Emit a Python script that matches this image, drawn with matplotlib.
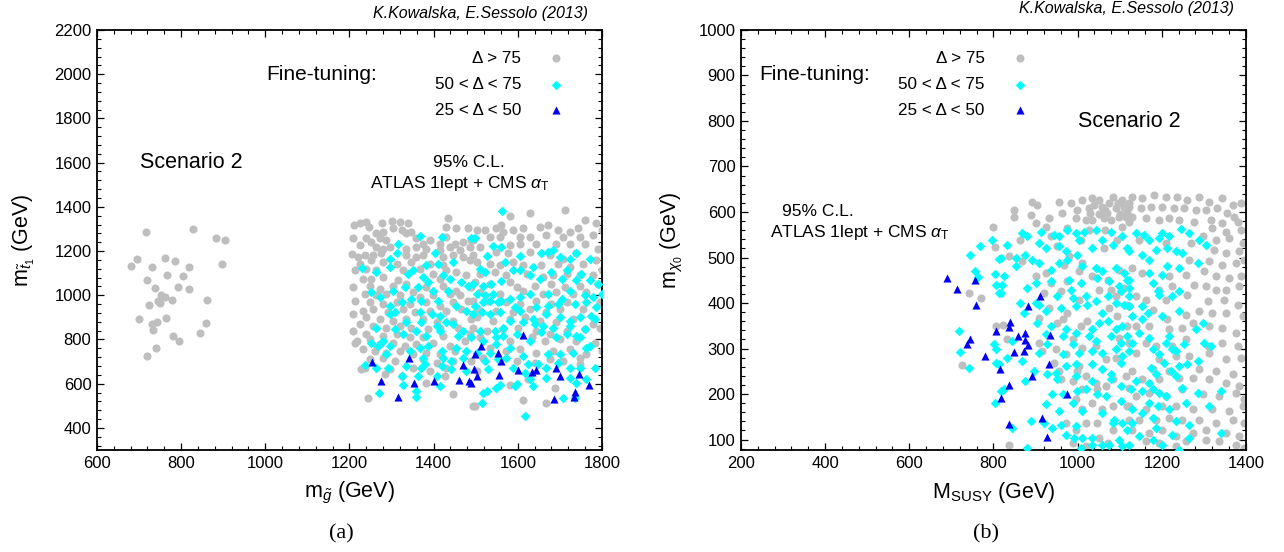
import numpy as np
import matplotlib
matplotlib.use("Agg")
import matplotlib.pyplot as plt
from matplotlib.ticker import MultipleLocator, AutoMinorLocator

plt.rcParams["font.family"] = ["Liberation Sans", "DejaVu Sans"]
plt.rcParams["mathtext.fontset"] = "custom"
plt.rcParams["mathtext.rm"] = "Liberation Sans"
plt.rcParams["mathtext.it"] = "Liberation Sans:italic"
plt.rcParams["mathtext.bf"] = "Liberation Sans:bold"

GREY = "#bebebe"
CYAN = "#00ffff"
BLUE = "#0000ee"

# ---- panel (a): gluino mass vs stop mass, (GeV, GeV) ----
a_grey = [
    (716, 1284), (829, 1298), (883, 1260), (905, 1251), (694, 1166), (680, 1131), (761, 1169), (785, 1153),
    (732, 1126), (819, 1128), (898, 1143), (718, 1070), (767, 1093), (804, 1087), (737, 1032), (792, 1037),
    (819, 1028), (753, 1003), (762, 992), (745, 974), (750, 965), (778, 979), (862, 977), (723, 955),
    (700, 892), (764, 895), (732, 871), (742, 877), (733, 845), (859, 874), (781, 816), (796, 793),
    (846, 828), (740, 762), (720, 724),
    (1226, 1328), (1240, 1333), (1278, 1325), (1300, 1337), (1321, 1333), (1339, 1325), (1434, 1348), (1429, 1310),
    (1454, 1303), (1482, 1303), (1209, 1257), (1247, 1310), (1264, 1280), (1280, 1287), (1304, 1303), (1324, 1295),
    (1335, 1280), (1347, 1287), (1240, 1257), (1252, 1242), (1272, 1257), (1288, 1249), (1359, 1257), (1375, 1234),
    (1391, 1249), (1415, 1234), (1430, 1265), (1450, 1234), (1470, 1242), (1490, 1249), (1225, 1227), (1264, 1219),
    (1280, 1211), (1296, 1219), (1335, 1211), (1359, 1219), (1383, 1211), (1415, 1204), (1438, 1219), (1462, 1204),
    (1486, 1219), (1221, 1173), (1236, 1181), (1256, 1181), (1276, 1189), (1335, 1181), (1359, 1173), (1375, 1181),
    (1423, 1173), (1446, 1181), (1470, 1173), (1225, 1143), (1252, 1158), (1280, 1151), (1312, 1143), (1347, 1151),
    (1391, 1143), (1423, 1135), (1486, 1158), (1213, 1113), (1240, 1120), (1264, 1113), (1327, 1113), (1367, 1120),
    (1399, 1097), (1430, 1113), (1454, 1105), (1232, 1075), (1252, 1075), (1280, 1082), (1316, 1067), (1415, 1075),
    (1478, 1090), (1209, 1037), (1248, 1044), (1272, 1029), (1304, 1044), (1335, 1052), (1383, 1037), (1423, 1044),
    (1454, 1021), (1490, 1037), (1236, 1006), (1264, 999), (1288, 1006), (1320, 999), (1351, 1014), (1367, 991),
    (1399, 999), (1438, 1006), (1462, 999), (1213, 976), (1248, 968), (1280, 961), (1312, 968), (1343, 961),
    (1383, 968), (1415, 953), (1446, 968), (1482, 976), (1232, 930), (1256, 938), (1292, 923), (1327, 938),
    (1355, 923), (1391, 930), (1430, 930), (1466, 938), (1209, 915), (1240, 900), (1272, 892), (1304, 885),
    (1335, 892), (1375, 892), (1407, 877), (1446, 885), (1490, 892), (1225, 870), (1256, 862), (1288, 854),
    (1320, 862), (1347, 854), (1387, 847), (1415, 854), (1458, 854), (1209, 839), (1240, 824), (1280, 816),
    (1312, 824), (1343, 809), (1375, 809), (1423, 816), (1486, 824), (1217, 794), (1248, 801), (1272, 778),
    (1304, 786), (1331, 771), (1359, 778), (1399, 786), (1438, 771), (1474, 794), (1232, 756), (1260, 748),
    (1288, 740), (1320, 748), (1351, 733), (1383, 740), (1415, 733), (1450, 748), (1248, 710), (1280, 718),
    (1308, 702), (1375, 710), (1407, 695), (1446, 702), (1490, 702), (1236, 672), (1296, 665), (1351, 672),
    (1391, 657), (1430, 672), (1244, 535), (1446, 554), (1494, 497), (1284, 642), (1324, 634), (1383, 604),
    (1426, 634), (1214, 782), (1228, 666), (1205, 1185), (1212, 1320),
    (1712, 1386), (1629, 1371), (1581, 1359), (1561, 1318), (1502, 1295), (1522, 1295), (1549, 1303), (1565, 1287),
    (1589, 1295), (1613, 1303), (1652, 1310), (1672, 1318), (1696, 1295), (1724, 1287), (1743, 1303), (1759, 1340),
    (1787, 1325), (1494, 1249), (1534, 1265), (1557, 1265), (1605, 1265), (1629, 1265), (1668, 1272), (1708, 1265),
    (1747, 1265), (1779, 1272), (1799, 1295), (1510, 1219), (1581, 1227), (1605, 1234), (1644, 1234), (1692, 1234),
    (1724, 1234), (1759, 1234), (1791, 1211), (1494, 1181), (1549, 1196), (1577, 1189), (1629, 1196), (1676, 1181),
    (1708, 1166), (1739, 1189), (1787, 1158), (1502, 1151), (1534, 1143), (1557, 1135), (1589, 1151), (1613, 1135),
    (1656, 1135), (1696, 1143), (1724, 1128), (1755, 1143), (1799, 1113), (1510, 1097), (1545, 1105), (1573, 1090),
    (1621, 1097), (1660, 1082), (1684, 1090), (1716, 1097), (1747, 1090), (1779, 1090), (1498, 1059), (1534, 1052),
    (1581, 1059), (1597, 1037), (1640, 1044), (1680, 1052), (1712, 1037), (1747, 1044), (1791, 1052), (1510, 1014),
    (1557, 1006), (1613, 1021), (1660, 1006), (1692, 1014), (1732, 1006), (1763, 1014), (1494, 976), (1530, 976),
    (1573, 968), (1605, 961), (1644, 976), (1680, 961), (1716, 968), (1795, 968), (1506, 938), (1549, 930),
    (1589, 923), (1629, 938), (1668, 923), (1700, 938), (1755, 938), (1502, 900), (1541, 885), (1581, 892),
    (1617, 900), (1652, 885), (1692, 877), (1732, 892), (1779, 870), (1494, 854), (1526, 839), (1565, 847),
    (1601, 854), (1644, 839), (1676, 824), (1716, 839), (1759, 847), (1795, 854), (1510, 809), (1581, 794),
    (1633, 809), (1664, 794), (1700, 801), (1739, 794), (1783, 786), (1534, 763), (1573, 748), (1605, 756),
    (1644, 740), (1684, 748), (1724, 756), (1763, 733), (1518, 718), (1557, 702), (1597, 702), (1640, 695),
    (1676, 710), (1708, 702), (1747, 718), (1502, 657), (1581, 596), (1625, 619), (1688, 581), (1668, 513),
    (1613, 528), (1498, 497), (1747, 687), (1799, 748),
]

a_cyan = [
    (1367, 1268), (1421, 1265), (1316, 1234), (1296, 1166), (1313, 1189), (1404, 1189), (1231, 1125), (1264, 1105),
    (1296, 1128), (1339, 1097), (1351, 1113), (1383, 1135), (1411, 1143), (1446, 1151), (1490, 1257), (1375, 1082),
    (1387, 1059), (1423, 1090), (1438, 1075), (1466, 1059), (1482, 1044), (1331, 1037), (1304, 1021), (1363, 1037),
    (1399, 1021), (1434, 1021), (1252, 1014), (1272, 991), (1296, 953), (1324, 968), (1347, 984), (1371, 976),
    (1411, 976), (1454, 953), (1478, 930), (1308, 923), (1367, 923), (1395, 915), (1415, 908), (1430, 877),
    (1296, 915), (1335, 877), (1371, 877), (1407, 862), (1446, 870), (1470, 839), (1264, 854), (1308, 847),
    (1327, 824), (1359, 839), (1383, 816), (1415, 839), (1458, 816), (1490, 809), (1252, 786), (1280, 794),
    (1296, 771), (1367, 763), (1387, 771), (1419, 748), (1454, 763), (1478, 748), (1268, 771), (1288, 733),
    (1343, 748), (1375, 718), (1423, 718), (1442, 702), (1470, 718), (1236, 684), (1264, 672), (1292, 672),
    (1335, 680), (1371, 672), (1419, 680), (1442, 665), (1478, 657), (1324, 634), (1363, 634), (1407, 634),
    (1327, 596), (1415, 589), (1359, 566), (1270, 557), (1359, 538), (1379, 687),
    (1563, 1383), (1498, 1257), (1541, 1222), (1561, 1219), (1526, 1176), (1605, 1176), (1656, 1192), (1672, 1196),
    (1684, 1204), (1700, 1173), (1724, 1166), (1739, 1189), (1771, 1166), (1569, 1151), (1510, 1120), (1522, 1105),
    (1589, 1113), (1605, 1113), (1636, 1128), (1680, 1105), (1716, 1113), (1751, 1097), (1494, 1052), (1518, 1044),
    (1537, 1052), (1561, 1064), (1629, 1090), (1652, 1075), (1704, 1075), (1739, 1067), (1771, 1067), (1791, 1052),
    (1502, 1006), (1522, 999), (1541, 1006), (1561, 976), (1581, 984), (1605, 991), (1629, 1006), (1672, 1006),
    (1704, 984), (1724, 1021), (1759, 999), (1779, 991), (1799, 1006), (1498, 953), (1518, 968), (1534, 976),
    (1553, 968), (1593, 946), (1644, 946), (1672, 953), (1696, 961), (1735, 961), (1763, 968), (1787, 946),
    (1494, 915), (1514, 923), (1534, 915), (1557, 923), (1605, 930), (1636, 892), (1668, 915), (1700, 900),
    (1724, 885), (1747, 900), (1775, 908), (1510, 839), (1545, 839), (1565, 854), (1581, 885), (1613, 877),
    (1640, 870), (1660, 862), (1684, 854), (1724, 862), (1739, 816), (1759, 847), (1783, 892), (1518, 794),
    (1549, 809), (1565, 816), (1597, 824), (1629, 794), (1656, 832), (1692, 809), (1716, 824), (1747, 809),
    (1771, 771), (1502, 740), (1534, 740), (1549, 778), (1581, 763), (1613, 725), (1672, 733), (1700, 733),
    (1732, 740), (1763, 763), (1522, 702), (1553, 710), (1573, 718), (1625, 687), (1648, 687), (1696, 695),
    (1724, 672), (1747, 672), (1783, 672), (1530, 665), (1589, 672), (1668, 672), (1617, 650), (1629, 619),
    (1668, 627), (1724, 627), (1763, 619), (1518, 558), (1526, 566), (1549, 581), (1557, 596), (1593, 589),
    (1597, 599), (1636, 589), (1708, 535), (1739, 604), (1514, 513), (1617, 456), (1735, 535),
]

a_blue = [
    (1254, 697), (1275, 610), (1315, 538), (1342, 717), (1353, 605), (1402, 610), (1461, 618), (1470, 686),
    (1484, 613), (1489, 605), (1495, 666), (1498, 734), (1503, 634), (1512, 769), (1553, 737), (1556, 639),
    (1561, 702), (1601, 663), (1612, 822), (1634, 655), (1643, 663), (1686, 531), (1690, 669), (1700, 634),
    (1734, 538), (1736, 562), (1746, 645), (1770, 594),
]

# ---- panel (b): M_SUSY vs neutralino mass, (GeV, GeV) ----
b_grey = [
    (799, 567), (803, 524), (742, 423), (771, 410), (806, 350), (726, 263), (822, 352), (832, 322),
    (892, 623), (904, 616), (955, 623), (983, 620), (1011, 627), (1035, 631), (1051, 627), (1074, 620),
    (1106, 627), (1122, 620), (999, 605), (1027, 609), (1066, 605), (1090, 609), (1118, 601), (849, 605),
    (849, 589), (888, 594), (932, 587), (963, 598), (995, 587), (1035, 583), (1062, 587), (1098, 590),
    (1122, 579), (900, 576), (924, 568), (975, 565), (1027, 561), (1066, 561), (1106, 568), (864, 539),
    (936, 547), (1007, 539), (1094, 539), (837, 503), (952, 525), (979, 503), (1011, 488), (1062, 521),
    (924, 466), (900, 459), (968, 484), (1003, 470), (1035, 459), (1071, 451), (1098, 473), (868, 492),
    (936, 444), (975, 448), (1110, 433), (1090, 415), (920, 422), (960, 426), (1051, 429), (1079, 429),
    (1003, 407), (1075, 389), (1118, 396), (932, 389), (975, 378), (1023, 360), (1094, 371), (964, 364),
    (952, 356), (908, 367), (1007, 349), (1118, 349), (908, 312), (988, 320), (1043, 305), (916, 294),
    (948, 298), (972, 287), (1099, 323), (1011, 301), (944, 268), (1003, 261), (1067, 276), (1091, 279),
    (956, 250), (999, 250), (1019, 239), (1043, 224), (1083, 232), (1115, 239), (960, 232), (988, 228),
    (1011, 210), (1047, 210), (1067, 217), (1122, 213), (1035, 181), (1083, 173), (995, 188), (1011, 166),
    (1059, 166), (1118, 173), (972, 137), (995, 122), (1019, 137), (1047, 137), (1083, 122), (1122, 144),
    (988, 93), (1019, 85), (1051, 104), (1071, 93), (837, 89),
    (1040, 615), (1058, 612), (1085, 632), (1095, 620), (1110, 612), (1030, 598), (1050, 595), (1070, 598),
    (1080, 583), (1100, 595), (1115, 590), (1020, 583),
    (1130, 634), (1154, 631), (1182, 638), (1209, 634), (1237, 634), (1261, 627), (1289, 634), (1312, 623),
    (1344, 631), (1368, 616), (1388, 620), (1122, 612), (1150, 609), (1174, 612), (1201, 612), (1229, 609),
    (1253, 609), (1281, 605), (1304, 605), (1332, 609), (1356, 598), (1372, 590), (1130, 590), (1162, 587),
    (1193, 583), (1217, 587), (1241, 583), (1277, 579), (1316, 583), (1344, 576), (1380, 579), (1320, 565),
    (1352, 557), (1388, 561), (1297, 547), (1328, 539), (1360, 543), (1392, 532), (1269, 532), (1324, 517),
    (1352, 510), (1384, 514), (1146, 539), (1209, 532), (1265, 495), (1312, 492), (1344, 484), (1376, 488),
    (1396, 495), (1130, 477), (1154, 466), (1217, 459), (1257, 462), (1301, 470), (1328, 459), (1360, 455),
    (1388, 459), (1193, 429), (1225, 437), (1277, 440), (1305, 437), (1328, 429), (1352, 429), (1384, 437),
    (1138, 415), (1162, 407), (1209, 407), (1261, 418), (1309, 404), (1348, 407), (1380, 396), (1122, 393),
    (1178, 385), (1213, 364), (1257, 374), (1289, 382), (1320, 378), (1352, 378), (1392, 371), (1138, 349),
    (1170, 349), (1217, 342), (1249, 345), (1273, 356), (1312, 349), (1344, 345), (1376, 334), (1122, 312),
    (1162, 312), (1185, 305), (1225, 305), (1257, 320), (1309, 305), (1344, 312), (1380, 305), (1138, 290),
    (1193, 276), (1233, 283), (1265, 283), (1312, 290), (1352, 276), (1388, 279), (1130, 250), (1178, 254),
    (1217, 250), (1289, 254), (1328, 250), (1368, 243), (1154, 232), (1193, 232), (1241, 235), (1273, 235),
    (1312, 232), (1352, 224), (1384, 217), (1138, 195), (1170, 202), (1209, 195), (1249, 210), (1297, 199),
    (1336, 195), (1376, 202), (1396, 188), (1122, 173), (1162, 166), (1201, 173), (1233, 173), (1273, 166),
    (1320, 166), (1360, 162), (1392, 173), (1146, 144), (1185, 144), (1217, 148), (1249, 144), (1289, 144),
    (1328, 137), (1368, 144), (1396, 137), (1130, 122), (1170, 115), (1201, 122), (1233, 107), (1273, 115),
    (1304, 122), (1352, 115), (1384, 107), (1162, 96), (1193, 93), (1233, 85), (1257, 96), (1304, 100),
    (1336, 96), (1376, 89), (1395, 82),
]

b_cyan = [
    (797, 538), (767, 526), (745, 506), (813, 497), (756, 470), (764, 457), (803, 464), (805, 439),
    (813, 422), (718, 338), (721, 292), (741, 257), (801, 309), (807, 299), (805, 268), (813, 265),
    (817, 206), (803, 181),
    (868, 554), (880, 547), (912, 557), (944, 550), (956, 547), (975, 561), (995, 554), (1015, 557),
    (1043, 561), (1079, 557), (1106, 547), (833, 528), (817, 499), (853, 499), (876, 506), (908, 532),
    (924, 521), (956, 525), (972, 514), (1003, 539), (1035, 521), (1059, 539), (1083, 528), (1118, 521),
    (825, 459), (821, 440), (853, 481), (892, 495), (908, 488), (936, 473), (956, 488), (999, 506),
    (975, 495), (1011, 481), (1043, 477), (1059, 470), (1091, 477), (1110, 466), (880, 433), (900, 444),
    (936, 448), (979, 451), (1007, 444), (1047, 455), (1075, 448), (1099, 437), (1118, 451), (817, 422),
    (864, 400), (908, 396), (952, 415), (984, 429), (988, 411), (1019, 415), (1043, 404), (1071, 415),
    (1103, 426), (1122, 415), (872, 378), (900, 400), (924, 382), (960, 389), (995, 393), (1023, 396),
    (1059, 378), (1091, 400), (1110, 396), (904, 356), (936, 349), (972, 342), (995, 334), (1035, 342),
    (1051, 356), (1071, 360), (1091, 342), (1106, 349), (924, 331), (928, 309), (964, 327), (988, 309),
    (1027, 327), (1043, 316), (1079, 327), (1103, 312), (1118, 327), (833, 279), (845, 316), (868, 272),
    (908, 290), (964, 287), (1003, 290), (1035, 294), (1059, 290), (1091, 298), (1106, 283), (1122, 294),
    (896, 250), (948, 246), (972, 261), (995, 265), (1035, 265), (1059, 254), (1079, 243), (1103, 268),
    (876, 228), (928, 243), (952, 232), (995, 239), (1035, 228), (1079, 232), (1103, 217), (825, 210),
    (940, 199), (964, 199), (999, 206), (1019, 210), (1047, 199), (1067, 195), (1103, 184), (924, 177),
    (956, 162), (988, 181), (1011, 162), (1059, 159), (1087, 144), (888, 140), (920, 137), (940, 126),
    (972, 111), (995, 129), (1011, 104), (1035, 104), (1083, 137), (1106, 137), (1118, 122), (845, 126),
    (960, 133), (992, 104), (1007, 82), (1035, 89), (1059, 89), (1075, 89), (1099, 100), (880, 82),
    (1106, 85),
    (1138, 554), (1158, 550), (1170, 539), (1193, 543), (1201, 554), (1217, 547), (1245, 563), (1265, 554),
    (1289, 539), (1304, 528), (1122, 514), (1154, 506), (1170, 495), (1185, 517), (1213, 521), (1233, 514),
    (1249, 510), (1285, 488), (1122, 451), (1170, 466), (1178, 444), (1190, 426), (1201, 462), (1213, 481),
    (1241, 477), (1122, 433), (1122, 393), (1130, 371), (1154, 393), (1166, 378), (1193, 418), (1225, 415),
    (1241, 426), (1241, 382), (1201, 371), (1154, 364), (1146, 334), (1170, 323), (1130, 312), (1217, 327),
    (1209, 312), (1225, 298), (1253, 309), (1281, 342), (1297, 356), (1301, 312), (1316, 305), (1178, 298),
    (1193, 287), (1233, 294), (1205, 268), (1241, 261), (1261, 265), (1285, 272), (1174, 257), (1185, 243),
    (1170, 224), (1221, 250), (1233, 239), (1138, 228), (1126, 210), (1154, 206), (1178, 210), (1193, 202),
    (1209, 195), (1249, 213), (1285, 202), (1340, 206), (1170, 181), (1190, 173), (1130, 166), (1154, 159),
    (1178, 148), (1217, 166), (1257, 181), (1312, 173), (1130, 137), (1185, 126), (1233, 140), (1265, 133),
    (1340, 115), (1146, 107), (1178, 100), (1225, 111), (1265, 104), (1122, 89), (1201, 89), (1241, 78),
]

b_blue = [
    (690, 455), (713, 431), (757, 450), (759, 396), (743, 322), (738, 310), (779, 284), (805, 338),
    (815, 256), (817, 191), (910, 415), (882, 393), (840, 358), (837, 347), (858, 327), (875, 334),
    (876, 318), (882, 307), (872, 294), (848, 292), (934, 329), (932, 267), (892, 239), (837, 219),
    (975, 201), (916, 148), (838, 134), (927, 105),
]

legend_labels = ["Δ > 75", "50 < Δ < 75", "25 < Δ < 50"]

# marker styles per fine-tuning class
STYLES = [dict(marker="o", s=34, color=GREY),
          dict(marker="D", s=24, color=CYAN),
          dict(marker="^", s=34, color=BLUE)]


def scatter_series(ax, pts, style, z):
    arr = np.array(pts, dtype=float)
    ax.scatter(arr[:, 0], arr[:, 1], linewidths=0, zorder=z, **style)


def style_axes(ax, xlim, ylim, xmajor, ymajor):
    ax.set_xlim(*xlim)
    ax.set_ylim(*ylim)
    ax.xaxis.set_major_locator(MultipleLocator(xmajor))
    ax.yaxis.set_major_locator(MultipleLocator(ymajor))
    ax.xaxis.set_minor_locator(AutoMinorLocator(5))
    ax.yaxis.set_minor_locator(AutoMinorLocator(5))
    ax.tick_params(which="both", direction="in", top=True, right=True, labelsize=12, pad=4)
    ax.tick_params(which="major", length=5, width=0.9)
    ax.tick_params(which="minor", length=2.6, width=0.8)
    for sp in ax.spines.values():
        sp.set_linewidth(1.3)


def draw_legend(ax, x_text, x_mark):
    rows = [0.933, 0.870, 0.809]
    for yy, lab, st in zip(rows, legend_labels, STYLES):
        ax.text(x_text, yy, lab, transform=ax.transAxes, ha="right", va="center", fontsize=12.3)
        ax.scatter([x_mark], [yy], transform=ax.transAxes, linewidths=0, clip_on=False, **st)


fig = plt.figure(figsize=(12.84, 5.52), dpi=100)
ax_a = fig.add_axes([0.0755, 0.1848, 0.3933, 0.7609])
ax_b = fig.add_axes([0.5771, 0.1848, 0.3933, 0.7609])

for ax, grey, cyan, blue in [(ax_a, a_grey, a_cyan, a_blue), (ax_b, b_grey, b_cyan, b_blue)]:
    scatter_series(ax, grey, STYLES[0], 2)
    scatter_series(ax, cyan, STYLES[1], 3)
    scatter_series(ax, blue, STYLES[2], 4)

# panel (a)
style_axes(ax_a, (600, 1800), (300, 2200), 200, 200)
ax_a.set_xlabel(r"m$_{\tilde{g}}$ (GeV)", fontsize=15.5, labelpad=7)
ax_a.set_ylabel(r"m$_{\tilde{t}_1}$ (GeV)", fontsize=15.5, labelpad=12)
draw_legend(ax_a, 0.84, 0.91)
ax_a.text(0.445, 0.893, "Fine-tuning:", transform=ax_a.transAxes, ha="center", va="center", fontsize=15)
ax_a.text(0.186, 0.685, "Scenario 2", transform=ax_a.transAxes, ha="center", va="center", fontsize=15.5)
ax_a.text(0.736, 0.685, "95% C.L.", transform=ax_a.transAxes, ha="center", va="center", fontsize=12.5)
ax_a.text(0.719, 0.634, r"ATLAS 1lept + CMS $\alpha_{\mathrm{T}}$", transform=ax_a.transAxes,
          ha="center", va="center", fontsize=12.5)
ax_a.text(0.973, 1.04, "K.Kowalska, E.Sessolo (2013)", transform=ax_a.transAxes,
          ha="right", va="center", fontsize=11.5, style="italic")

# panel (b)
style_axes(ax_b, (200, 1400), (77, 1000), 200, 100)
ax_b.set_xlabel(r"M$_{\mathrm{SUSY}}$ (GeV)", fontsize=15.5, labelpad=7)
ax_b.set_ylabel(r"m$_{\chi_0}$ (GeV)", fontsize=15.5, labelpad=10)
draw_legend(ax_b, 0.482, 0.553)
ax_b.text(0.146, 0.893, "Fine-tuning:", transform=ax_b.transAxes, ha="center", va="center", fontsize=15)
ax_b.text(0.768, 0.782, "Scenario 2", transform=ax_b.transAxes, ha="center", va="center", fontsize=15.5)
ax_b.text(0.153, 0.567, "95% C.L.", transform=ax_b.transAxes, ha="center", va="center", fontsize=12.5)
ax_b.text(0.236, 0.517, r"ATLAS 1lept + CMS $\alpha_{\mathrm{T}}$", transform=ax_b.transAxes,
          ha="center", va="center", fontsize=12.5)
ax_b.text(0.976, 1.05, "K.Kowalska, E.Sessolo (2013)", transform=ax_b.transAxes,
          ha="right", va="center", fontsize=11.5, style="italic")

fig.text(0.266, 0.033, "(a)", ha="center", va="center", fontsize=16, family="Liberation Serif")
fig.text(0.768, 0.033, "(b)", ha="center", va="center", fontsize=16, family="Liberation Serif")

fig.savefig("out.png", dpi=100)
